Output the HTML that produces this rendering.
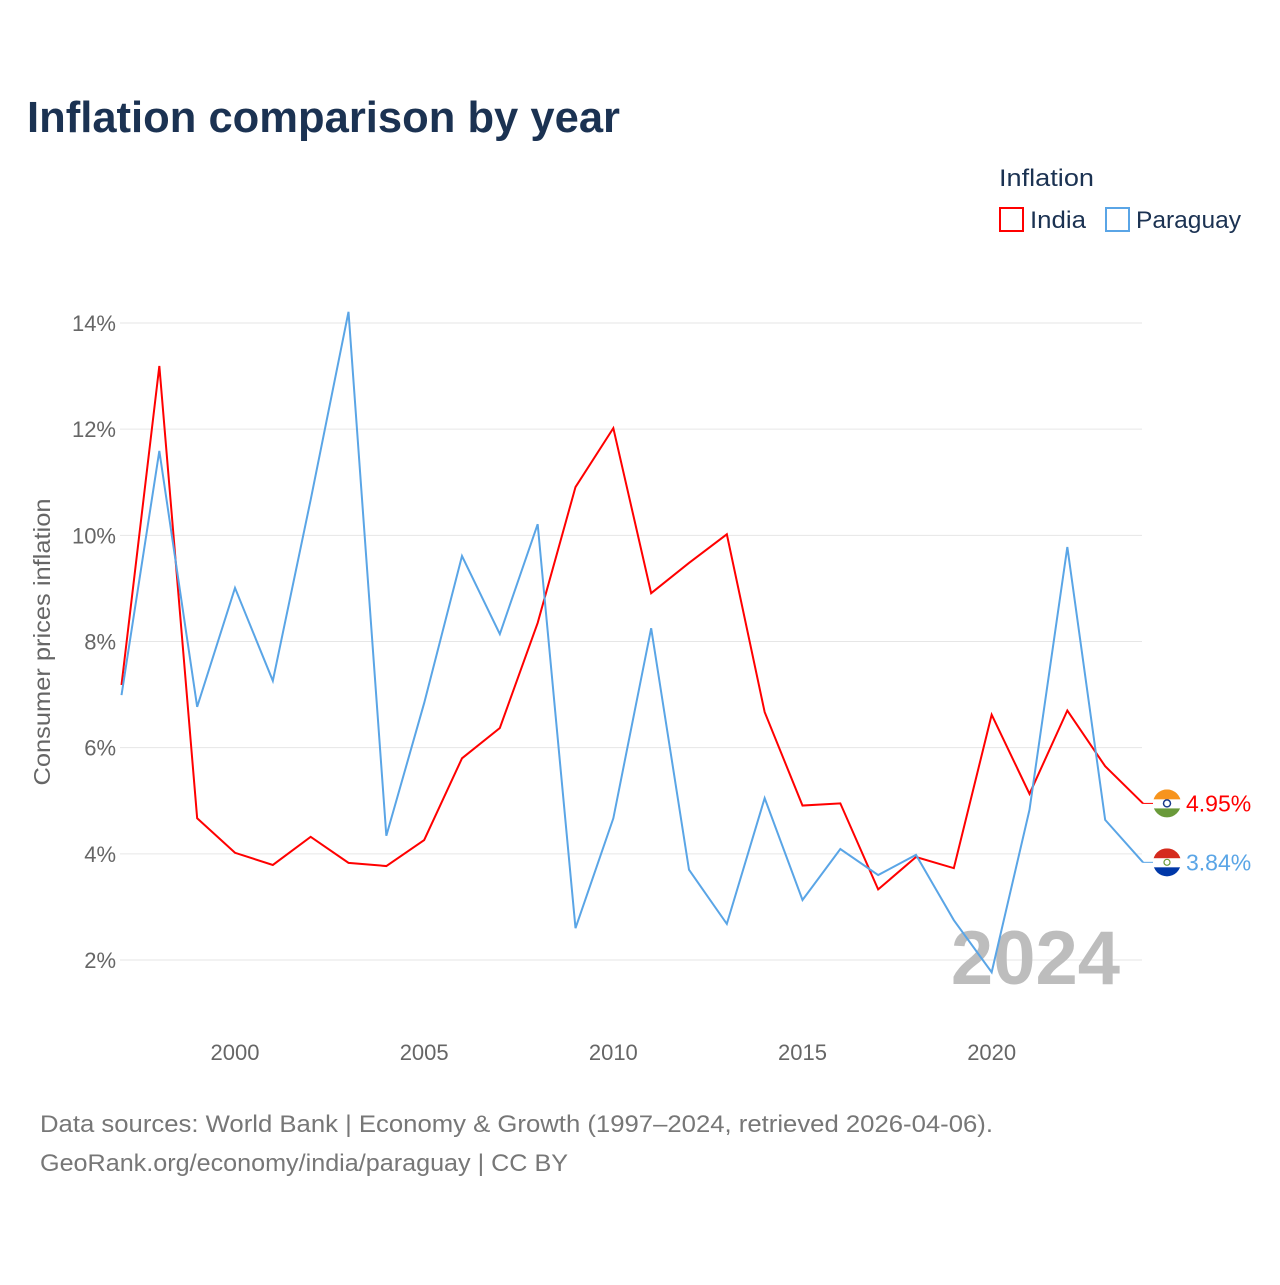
<!DOCTYPE html>
<html><head><meta charset="utf-8">
<style>
body{margin:0;background:#fff;font-family:"Liberation Sans",sans-serif;}
svg text{font-family:"Liberation Sans",sans-serif;}
</style></head>
<body>
<svg id="chart" width="1280" height="1280" xmlns="http://www.w3.org/2000/svg">
<text x="27" y="132" font-size="44" font-weight="bold" fill="#1b3252" textLength="593" lengthAdjust="spacingAndGlyphs">Inflation comparison by year</text>
<text x="999" y="186" font-size="24" fill="#1b3252" textLength="95" lengthAdjust="spacingAndGlyphs">Inflation</text>
<g>
<rect x="1000" y="208" width="23" height="23" fill="none" stroke="#f00" stroke-width="2"/>
<text x="1030" y="228" font-size="24" fill="#1b3252" textLength="56" lengthAdjust="spacingAndGlyphs">India</text></g>
<g>
<rect x="1106" y="208" width="23" height="23" fill="none" stroke="#5aa5e6" stroke-width="2"/>
<text x="1136" y="228" font-size="24" fill="#1b3252" textLength="105" lengthAdjust="spacingAndGlyphs">Paraguay</text></g>
<text transform="translate(50,642) rotate(-90)" text-anchor="middle" font-size="23" fill="#666" textLength="287" lengthAdjust="spacingAndGlyphs">Consumer prices inflation</text>
<g id="grid"></g><g id="xt"></g>
<text x="1120" y="984" text-anchor="end" font-size="76" font-weight="bold" fill="#bdbdbd">2024</text>
<g id="series"></g>
<text x="40" y="1132" font-size="24" fill="#777" textLength="953" lengthAdjust="spacingAndGlyphs">Data sources: World Bank | Economy &amp; Growth (1997–2024, retrieved 2026-04-06).</text>
<text x="40" y="1171" font-size="24" fill="#777" textLength="528" lengthAdjust="spacingAndGlyphs">GeoRank.org/economy/india/paraguay | CC BY</text>
</svg>
<script>
const years=[1997,1998,1999,2000,2001,2002,2003,2004,2005,2006,2007,2008,2009,2010,2011,2012,2013,2014,2015,2016,2017,2018,2019,2020,2021,2022,2023,2024];
const india=[7.18,13.19,4.67,4.02,3.79,4.32,3.83,3.77,4.26,5.8,6.37,8.35,10.91,12.02,8.91,9.48,10.02,6.67,4.91,4.95,3.33,3.94,3.73,6.62,5.13,6.7,5.65,4.95];
const paraguay=[6.99,11.59,6.77,9.01,7.26,10.67,14.21,4.34,6.84,9.61,8.14,10.21,2.6,4.67,8.25,3.70,2.68,5.05,3.13,4.09,3.6,3.98,2.75,1.77,4.83,9.78,4.64,3.84];
const yTicks=[2,4,6,8,10,12,14];
const xTicks=[2000,2005,2010,2015,2020];
const NS="http://www.w3.org/2000/svg";
const X=y=>121.5+(y-1997)*(1143-121.5)/27;
const Y=v=>960-(v-2)*(960-323)/12;
function mk(t,a,p){const e=document.createElementNS(NS,t);for(const k in a)e.setAttribute(k,a[k]);p.appendChild(e);return e;}
const grid=document.getElementById('grid');
yTicks.forEach(t=>{
 const l=mk('line',{x1:120,x2:1142,y1:Y(t),y2:Y(t),stroke:'#e6e6e6','stroke-width':1},grid);
 
 
 const tx=mk('text',{x:116,y:Y(t)+8,'text-anchor':'end','font-size':22,fill:'#666'},grid);
 tx.textContent=t+'%';
 
 
});
const xt=document.getElementById('xt');
xTicks.forEach(t=>{
 const tx=mk('text',{x:X(t),y:1060,'text-anchor':'middle','font-size':22,fill:'#666'},xt);
 tx.textContent=t;
 
 
});
const sg=document.getElementById('series');
function series(vals,color,name){
 const p=mk('polyline',{points:vals.map((v,i)=>X(years[i])+','+Y(v)).join(' '),fill:'none',stroke:color,'stroke-width':2,'stroke-linejoin':'miter'},sg);
 
 
 const last=vals[vals.length-1],ly=Y(last),lx=X(years[years.length-1]);
 mk('line',{x1:lx,x2:lx+10,y1:ly,y2:ly,stroke:color,'stroke-width':1},sg);
 const lbl=mk('text',{x:1186,y:ly+8,'font-size':23,fill:color},sg);
 lbl.textContent=last.toFixed(2)+'%';
 
 
 return ly;
}
const iy=series(india,'#f00','india');
const py=series(paraguay,'#5aa5e6','paraguay');
const fi=mk('g',{},sg);


const c1=mk('clipPath',{id:'c1'},fi);mk('circle',{cx:1167,cy:iy,r:14},c1);
const gi=mk('g',{'clip-path':'url(#c1)'},fi);
mk('rect',{x:1153,y:iy-14,width:28,height:10,fill:'#f7941d'},gi);
mk('rect',{x:1153,y:iy-4,width:28,height:9,fill:'#fff'},gi);
mk('rect',{x:1153,y:iy+5,width:28,height:10,fill:'#6a9a3a'},gi);
mk('circle',{cx:1167,cy:iy,r:3.5,fill:'none',stroke:'#1a3a8a','stroke-width':1.5},gi);
const fp=mk('g',{},sg);


const cp=mk('clipPath',{id:'c2'},fp);mk('circle',{cx:1167,cy:py,r:14},cp);
const gp=mk('g',{'clip-path':'url(#c2)'},fp);
mk('rect',{x:1153,y:py-14,width:28,height:10,fill:'#d52b1e'},gp);
mk('rect',{x:1153,y:py-4,width:28,height:9,fill:'#fff'},gp);
mk('rect',{x:1153,y:py+5,width:28,height:10,fill:'#0038a8'},gp);
mk('circle',{cx:1167,cy:py,r:3,fill:'none',stroke:'#6a9a3a','stroke-width':1.2},gp);
</script>
</body></html>
